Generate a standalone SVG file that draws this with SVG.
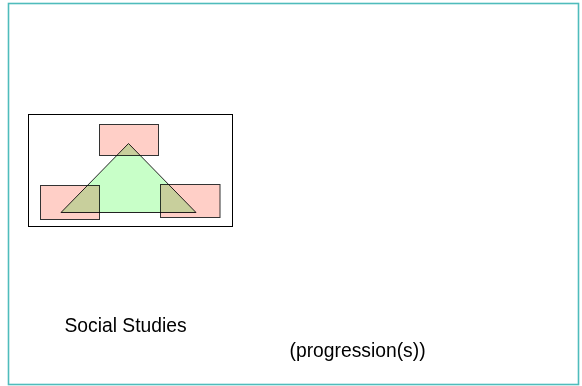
<svg xmlns="http://www.w3.org/2000/svg" width="582" height="386" viewBox="0 0 582 386">
<style>
.frame{fill:#ffffff;stroke:#4fbcbc;stroke-width:1.6}
.box{fill:none;stroke:#000;stroke-width:1}
.pink{fill:#ffcfc7;stroke:#333;stroke-width:1}
.tri{fill:#c8ffc8;stroke:#222;stroke-width:1;mix-blend-mode:multiply}
.lbl{font-family:"Liberation Sans",Arial,sans-serif;font-size:19.3px;fill:#000}
</style>
<rect class="frame" x="8.5" y="3.5" width="570" height="381"/>
<g id="panel">
<rect class="box" x="28.5" y="114.5" width="204" height="112"/>
</g>
<g id="rect-top"><rect class="pink" x="99.5" y="124.5" width="59" height="31"/></g>
<g id="rect-left"><rect class="pink" x="40.5" y="185.5" width="59" height="34"/></g>
<g id="rect-right"><rect class="pink" x="160.5" y="184.5" width="59.5" height="33"/></g>
<g id="triangle"><polygon class="tri" points="128.5,143.5 196,212.5 61,212.5"/></g>
<g id="connectors"></g>
<g id="label-social"><text class="lbl" x="64.5" y="331.5">Social Studies</text></g>
<g id="label-progression"><text class="lbl" x="289.5" y="356.5">(progression(s))</text></g>
</svg>
